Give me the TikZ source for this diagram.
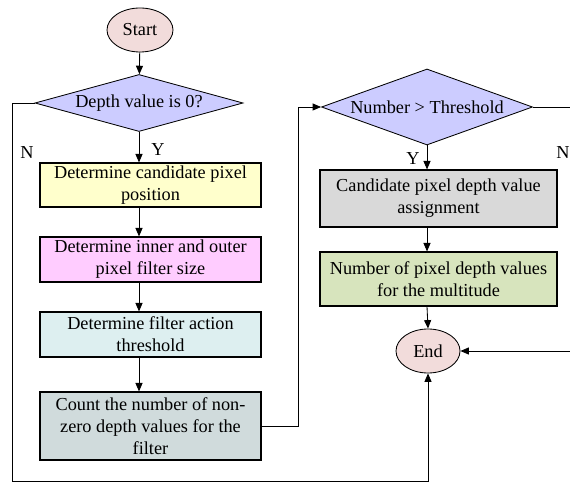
\documentclass[tikz,border=0pt]{standalone}
\usepackage{fontspec}
\setmainfont{Liberation Serif}
\usetikzlibrary{shapes.geometric,arrows.meta}
\definecolor{termfill}{HTML}{F2DCDB}
\definecolor{decfill}{HTML}{CCCCFF}
\definecolor{yellowfill}{HTML}{FFFFCC}
\definecolor{pinkfill}{HTML}{FFCCFF}
\definecolor{cyanfill}{HTML}{DDEFF0}
\definecolor{slatefill}{HTML}{D0DBDC}
\definecolor{grayfill}{HTML}{D9D9D9}
\definecolor{greenfill}{HTML}{D7E4BD}
\begin{document}
\begin{tikzpicture}[x=0.025cm,y=-0.025cm,
	font=\fontsize{13}{15.6}\selectfont,
	term/.style={ellipse,draw,fill=termfill,line width=0.6pt,minimum width=1.65cm,minimum height=1.1cm,inner sep=0pt},
	decide/.style={diamond,draw,fill=decfill,line width=0.6pt,inner sep=0pt},
	stepbox/.style={rectangle,draw,line width=0.8pt,align=center,inner sep=1pt},
	arr/.style={line width=0.6pt,-{Triangle[length=6pt,width=5pt]}},
	line/.style={line width=0.6pt}]
	\useasboundingbox (0,0) rectangle (570,484);
	\clip (0,0) rectangle (570,484);
	% left column
	\node [term] (start) at (140,30) {Start};
	\node [decide,aspect=3.65,minimum width=5.2cm,minimum height=1.425cm] (zero) at (139,103) {Depth value is 0?};
	\node [stepbox,fill=yellowfill,minimum width=5.525cm,minimum height=1.1cm] (pos) at (150.5,185) {Determine candidate pixel\\position};
	\node [stepbox,fill=pinkfill,minimum width=5.525cm,minimum height=1.125cm] (size) at (150.5,259.5) {Determine inner and outer\\pixel filter size};
	\node [stepbox,fill=cyanfill,minimum width=5.525cm,minimum height=1.125cm] (thresh) at (150.5,334.5) {Determine filter action\\threshold};
	\node [stepbox,fill=slatefill,minimum width=5.525cm,minimum height=1.7cm] (count) at (150.5,426) {Count the number of non-\\zero depth values for the\\filter};
	% right column
	\node [decide,aspect=2.78,minimum width=5.275cm,minimum height=1.9cm] (more) at (427,107) {Number > Threshold};
	\node [stepbox,fill=grayfill,minimum width=5.925cm,minimum height=1.425cm] (assign) at (438.5,198.5) {Candidate pixel depth value\\assignment};
	\node [stepbox,fill=greenfill,minimum width=5.925cm,minimum height=1.35cm] (multi) at (438.5,279) {Number of pixel depth values\\for the multitude};
	\node [term,minimum width=1.6cm] (end) at (428,351) {End};
	\coordinate (noout) at (575,107);
	\coordinate (noin) at (575,351);
	% connectors
	\draw [arr] (start) -- (zero);
	\draw [arr] (zero.south) -- (zero.south |- pos.north);
	\draw [arr] (zero.south |- pos.south) -- (zero.south |- size.north);
	\draw [arr] (zero.south |- size.south) -- (zero.south |- thresh.north);
	\draw [arr] (zero.south |- thresh.south) -- (zero.south |- count.north);
	\draw [arr] (zero.west) -| (12,481) -| (end.south);
	\draw [arr] (count.east) -- (298,426) |- (more.west);
	\draw [line] (more.east) -- (noout);
	\draw [arr] (more.south) -- (more.south |- assign.north);
	\draw [arr] (more.south |- assign.south) -- (more.south |- multi.north);
	\draw [arr] (more.south |- multi.south) -- (end.north);
	\draw [arr] (noin) -- (end.east);
	% labels
	\node (n1) at (27,153) {N};
	\node (y1) at (158,150) {Y};
	\node (y2) at (413,159) {Y};
	\node (n2) at (563,153) {N};
\end{tikzpicture}
\end{document}
